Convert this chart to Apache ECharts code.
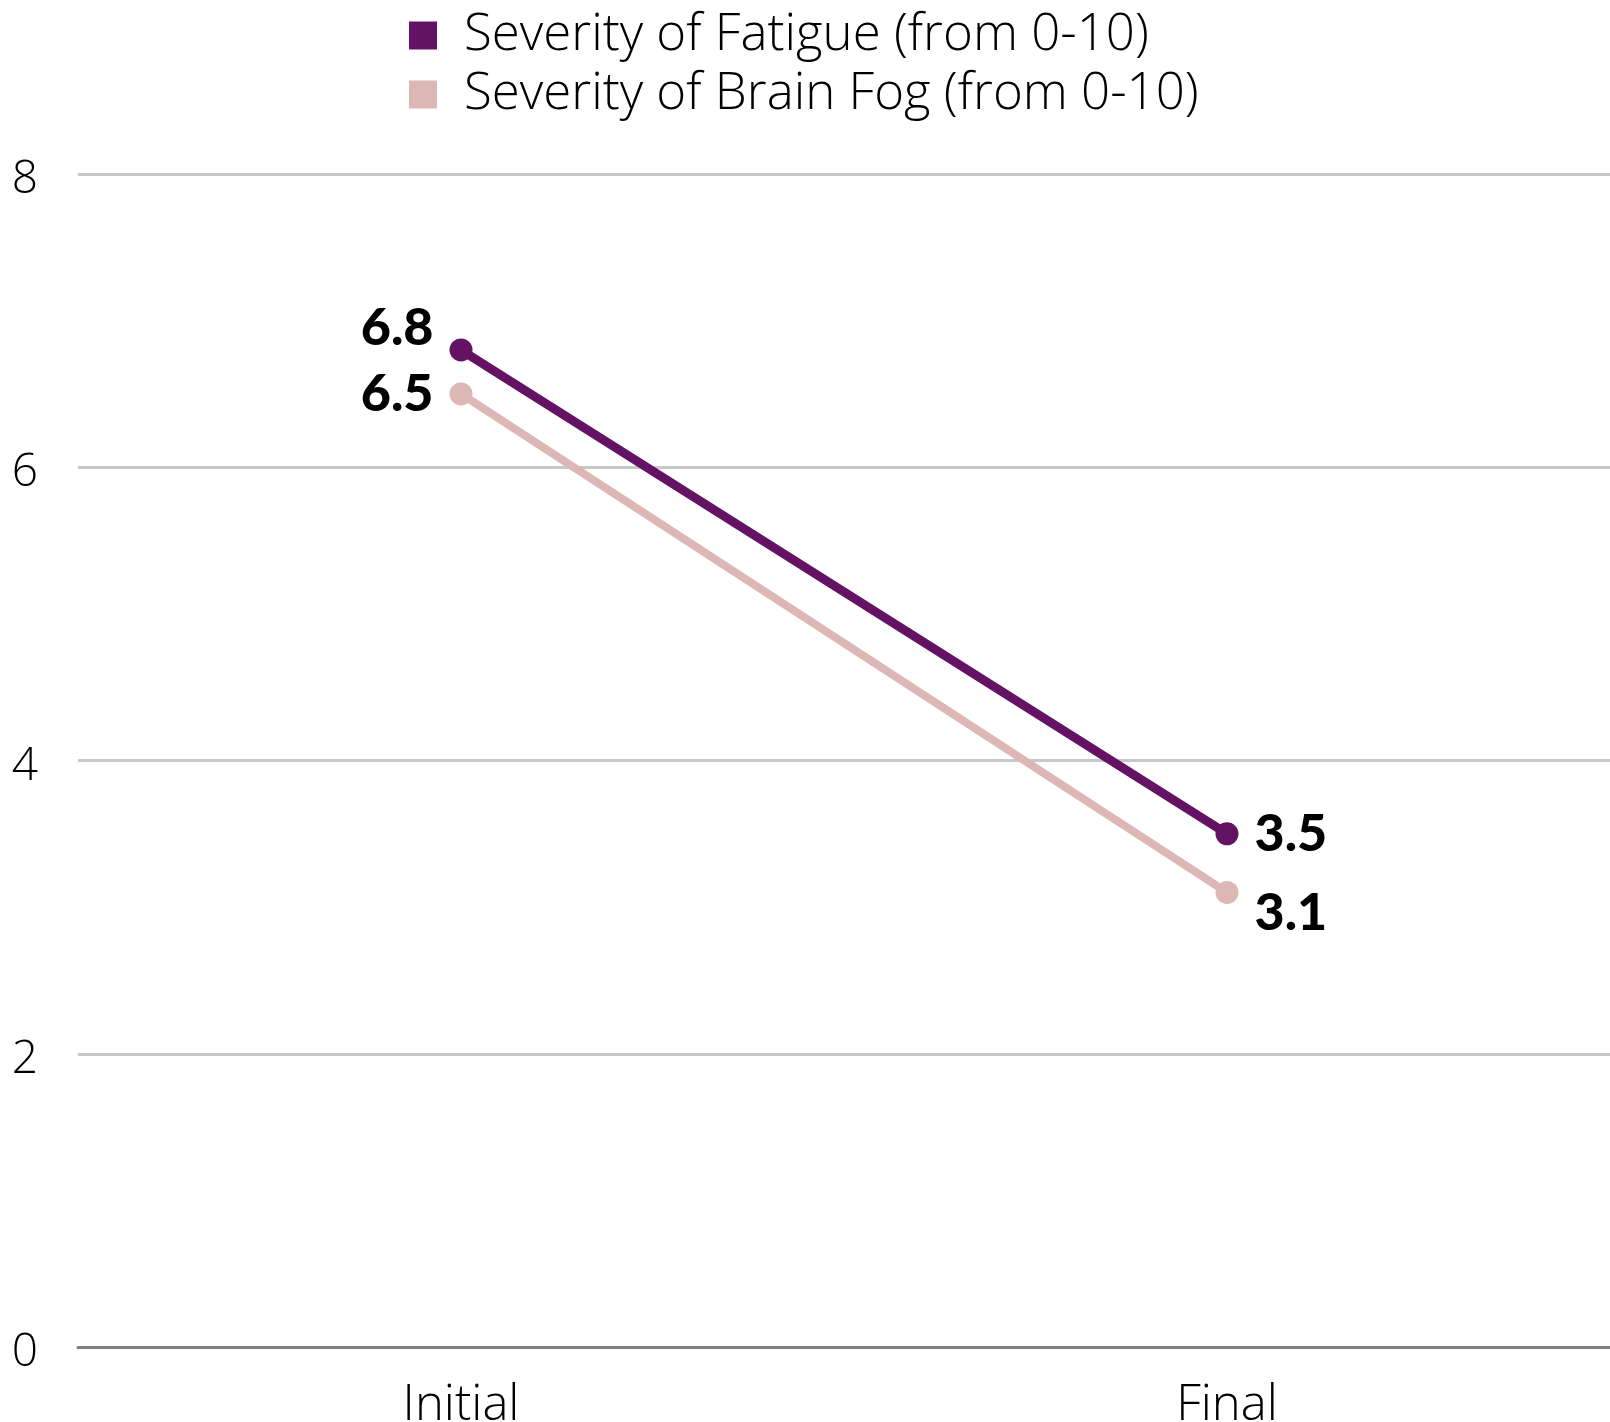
<!DOCTYPE html>
<html>
<head>
<meta charset="utf-8">
<script src="https://cdn.jsdelivr.net/npm/echarts@6/dist/echarts.min.js"></script>
<style>
  html, body { margin: 0; padding: 0; background: #ffffff; }
  #chart { width: 1610px; height: 1422px; }
</style>
</head>
<body>
<div id="chart"></div>
<script>
// Time points and average severity scores (0-10 scale)
const categories = ['Initial', 'Final'];
const fatigue = [6.8, 3.5];
const brainFog = [6.5, 3.1];
const seriesNames = ['Severity of Fatigue (from 0-10)', 'Severity of Brain Fog (from 0-10)'];

const FONT = '"Open Sans", Lato, sans-serif';
const LABEL_FONT = 'Lato, "Open Sans", sans-serif';
const PURPLE = '#641264';
const PINK = '#dcb7b5';

const labelStyle = {
  show: true,
  fontFamily: LABEL_FONT,
  fontSize: 52,
  fontWeight: 900,
  color: '#000000',
  distance: 16
};

// first point labelled on the left, last on the right; nudged apart where the lines are close
function withLabels(values, offsets) {
  return values.map((v, i) => ({
    value: v,
    label: {
      position: i === 0 ? 'left' : 'right',
      offset: offsets[i]
    }
  }));
}

const chart = echarts.init(document.getElementById('chart'));
chart.setOption({
  animation: false,
  backgroundColor: '#ffffff',
  legend: {
    orient: 'vertical',
    left: 404,
    top: 5,
    itemWidth: 28,
    itemHeight: 28,
    itemGap: 8,
    icon: 'rect',
    textStyle: {
      fontFamily: FONT, fontSize: 51, fontWeight: 300, color: '#000000',
      padding: [0, 0, 0, 22]
    },
    data: seriesNames
  },
  grid: { left: 78, right: 0, top: 174, bottom: 75, containLabel: false, outerBoundsMode: 'none' },
  xAxis: {
    type: 'category',
    data: categories,
    boundaryGap: true,
    axisLine: { lineStyle: { color: '#808080', width: 3 } },
    axisTick: { show: false },
    axisLabel: { fontFamily: FONT, fontSize: 49, fontWeight: 300, color: '#000000', margin: 35 }
  },
  yAxis: {
    type: 'value',
    min: 0,
    max: 8,
    interval: 2,
    axisLine: { show: false },
    axisTick: { show: false },
    splitLine: { lineStyle: { color: '#c8c8c8', width: 3 } },
    axisLabel: {
      margin: 40,
      formatter: '{v|{value}}',
      rich: {
        v: {
          fontFamily: FONT, fontSize: 46, fontWeight: 300, color: '#000000',
          padding: [12, 0, 0, 0]
        }
      }
    }
  },
  series: [
    {
      name: seriesNames[0],
      type: 'line',
      data: withLabels(fatigue, [[0, -22], [0, 0]]),
      symbol: 'circle',
      symbolSize: 23,
      itemStyle: { color: PURPLE },
      lineStyle: { color: PURPLE, width: 9 },
      label: labelStyle,
      z: 3
    },
    {
      name: seriesNames[1],
      type: 'line',
      data: withLabels(brainFog, [[0, 0], [0, 21]]),
      symbol: 'circle',
      symbolSize: 23,
      itemStyle: { color: PINK },
      lineStyle: { color: PINK, width: 8 },
      label: labelStyle,
      z: 2
    }
  ]
});
</script>
</body>
</html>
